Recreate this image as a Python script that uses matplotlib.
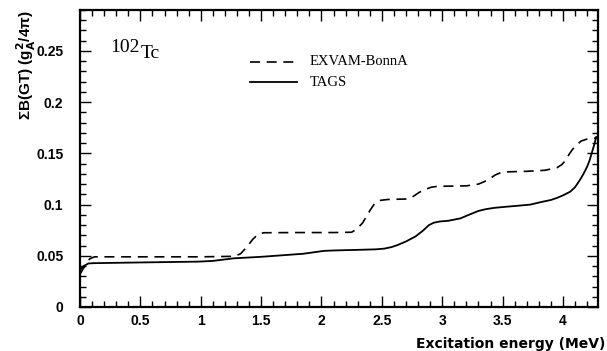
import matplotlib
matplotlib.use('Agg')
import matplotlib.pyplot as plt
from matplotlib.ticker import MultipleLocator

''' Data read off the reference '''
# EXVAM-BonnA (dashed)
x_exvam = [0.00, 0.03, 0.08, 0.12, 0.5, 1.0, 1.28, 1.33, 1.385, 1.43, 1.47, 1.52, 1.8, 2.1, 2.25,
           2.29, 2.34, 2.40, 2.44, 2.48, 2.55, 2.72, 2.76, 2.81, 2.86, 2.91, 2.96, 3.05, 3.2, 3.30,
           3.35, 3.39, 3.44, 3.49, 3.55, 3.7, 3.85, 3.95, 3.99, 4.02, 4.05, 4.08, 4.11, 4.15, 4.20,
           4.25, 4.29]
y_exvam = [0.032, 0.038, 0.047, 0.049, 0.049, 0.049, 0.0495, 0.052, 0.059, 0.066, 0.0705, 0.0725,
           0.0727, 0.0727, 0.073, 0.076, 0.082, 0.094, 0.101, 0.104, 0.105, 0.1055, 0.108, 0.112,
           0.1148, 0.1170, 0.1178, 0.1180, 0.1183, 0.120, 0.1225, 0.1250, 0.1290, 0.1315, 0.1320,
           0.1325, 0.1335, 0.136, 0.139, 0.143, 0.149, 0.154, 0.158, 0.162, 0.1640, 0.1648, 0.165]

# TAGS (solid)
x_tags = [0.00, 0.03, 0.07, 0.11, 0.5, 0.98, 1.10, 1.27, 1.5, 1.85, 2.02, 2.1, 2.3, 2.45, 2.52,
          2.58, 2.63, 2.70, 2.78, 2.84, 2.89, 2.93, 2.98, 3.05, 3.15, 3.22, 3.30, 3.36, 3.43, 3.52,
          3.62, 3.73, 3.82, 3.90, 3.95, 4.00, 4.06, 4.10, 4.14, 4.17, 4.20, 4.22, 4.24, 4.26, 4.275]
y_tags = [0.036, 0.040, 0.0425, 0.0428, 0.0435, 0.0443, 0.0450, 0.0475, 0.0490, 0.0520, 0.0548,
          0.0552, 0.0558, 0.0563, 0.0570, 0.0585, 0.0605, 0.0640, 0.0690, 0.0745, 0.0800, 0.0823,
          0.0835, 0.0842, 0.0865, 0.0900, 0.0938, 0.0955, 0.0968, 0.0978, 0.0988, 0.1000, 0.1025,
          0.1045, 0.1065, 0.1090, 0.1126, 0.1170, 0.1240, 0.1300, 0.1370, 0.1430, 0.1510, 0.1590,
          0.1660]

x_lim = (0, 4.29)
y_lim = (0, 0.29)

''' Figure '''
fig = plt.figure(figsize=(6.07, 3.51), dpi=100)
ax = fig.add_axes([80/607, 1 - 307/351, 518/607, 297/351])

ax.plot(x_exvam, y_exvam, color='black', lw=1.2, ls=(0, (6, 4)))
ax.plot(x_tags, y_tags, color='black', lw=1.3)

ax.set_xlim(*x_lim)
ax.set_ylim(*y_lim)

# ROOT-like ticks
ax.xaxis.set_major_locator(MultipleLocator(0.5))
ax.xaxis.set_minor_locator(MultipleLocator(0.1))
ax.yaxis.set_major_locator(MultipleLocator(0.05))
ax.yaxis.set_minor_locator(MultipleLocator(0.01))
ax.tick_params(which='both', direction='in', top=True, right=True, width=1)
ax.tick_params(which='major', length=8)
ax.tick_params(which='minor', length=4)
ax.tick_params(axis='x', which='major', pad=5)
ax.tick_params(axis='y', which='major', pad=12)
for sp in ax.spines.values():
    sp.set_linewidth(1.6)

ax.set_xticks([0, 0.5, 1, 1.5, 2, 2.5, 3, 3.5, 4])
ax.set_xticklabels(['0', '0.5', '1', '1.5', '2', '2.5', '3', '3.5', '4'])
ax.set_yticks([0, 0.05, 0.1, 0.15, 0.2, 0.25])
ax.set_yticklabels(['0', '0.05', '0.1', '0.15', '0.2', '0.25'])
for lab in ax.get_xticklabels() + ax.get_yticklabels():
    lab.set_fontfamily('Liberation Sans')
    lab.set_fontweight('bold')
    lab.set_fontsize(10)

# axis titles
fig.text(605/607, 1 - 348/351, 'Excitation energy (MeV)', ha='right', va='baseline',
         fontsize=10, fontweight='bold', family='DejaVu Sans')
fig.text(26/607, 1 - 10/351, r'ΣB(GT) (g$^{\mathbf{2}}_{\mathbf{A}}$/4π)', rotation=90,
         ha='center', va='top', fontsize=11, fontweight='bold', family='Liberation Sans')

# nucleus label
ax.text(0.058, 0.859, '102', transform=ax.transAxes, family='Liberation Serif', fontsize=14,
        va='baseline')
ax.text(0.118, 0.838, 'Tc', transform=ax.transAxes, family='Liberation Serif', fontsize=14,
        va='baseline')

# legend drawn by hand
ax.plot([0.328, 0.419], [0.826, 0.826], transform=ax.transAxes, color='black', lw=1.2,
        ls=(0, (6, 4)))
ax.plot([0.328, 0.419], [0.757, 0.757], transform=ax.transAxes, color='black', lw=1.3)
ax.text(0.444, 0.826, 'EXVAM-BonnA', transform=ax.transAxes, family='Liberation Serif',
        fontsize=10.5, va='center')
ax.text(0.444, 0.757, 'TAGS', transform=ax.transAxes, family='Liberation Serif',
        fontsize=10.5, va='center')

fig.savefig('out.png', dpi=100)
